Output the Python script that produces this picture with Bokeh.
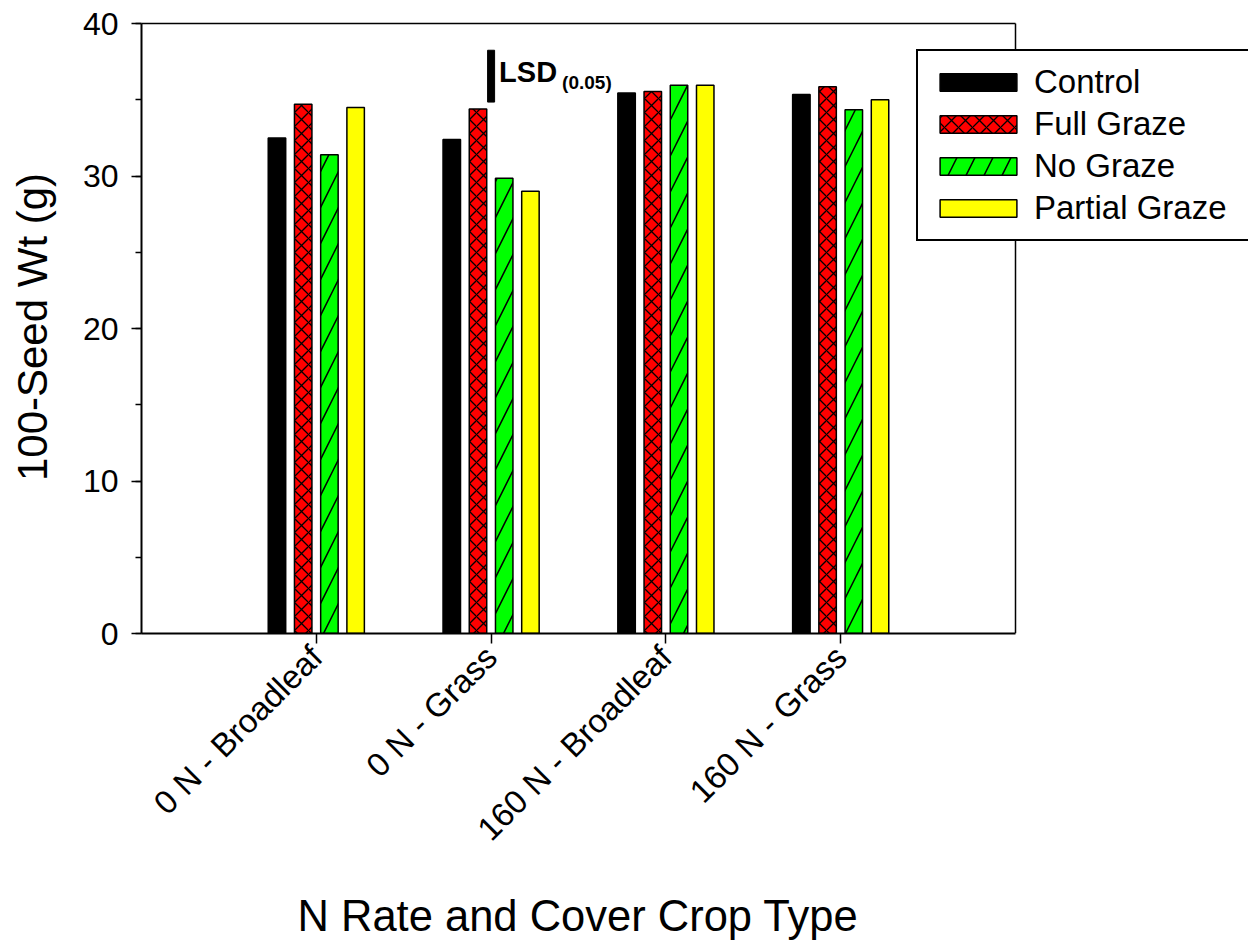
import math
from bokeh.plotting import figure
from bokeh.models import (Range1d, SingleIntervalTicker, FixedTicker, Legend,
                          LegendItem, ColumnDataSource, Title)
from bokeh.embed import file_html
from bokeh.resources import INLINE
from bokeh.core.properties import value

# ---- data ----
groups = ["0 N - Broadleaf", "0 N - Grass", "160 N - Broadleaf", "160 N - Grass"]
series = ["Control", "Full Graze", "No Graze", "Partial Graze"]
control = [32.5, 32.4, 35.45, 35.35]
full_graze = [34.7, 34.4, 35.55, 35.85]
no_graze = [31.4, 29.85, 35.95, 34.35]
partial_graze = [34.5, 29.0, 35.95, 35.0]
lsd_group = "0 N - Grass"
lsd_bottom = 34.85
lsd_top = 38.25
y_max = 40
y_tick_step = 10

FONT = "Liberation Sans"

W, H = 1248, 944
LEFT, TOP, BOTTOM_Y = 141, 20, 633
box_w = 874                                         # width of the plotted box in px
pos = [i + 1 for i in range(len(groups))]          # category positions 1..n
x_end = len(groups) + 1                             # box right edge (data units)
px_per_unit = box_w / x_end
frame_w = W - LEFT

series_cols = [control, full_graze, no_graze, partial_graze]

p = figure(x_range=Range1d(0, frame_w / px_per_unit),
           y_range=Range1d(0, y_max + 0.2),
           frame_width=frame_w, frame_height=BOTTOM_Y - TOP,
           min_border_left=LEFT, min_border_right=0, min_border_top=TOP,
           min_border_bottom=H - BOTTOM_Y,
           output_backend="svg", toolbar_location=None)

p.background_fill_color = "white"
p.border_fill_color = "white"
p.outline_line_color = None
p.xgrid.visible = False
p.ygrid.visible = False

bw = 0.1
styles = [
    (-0.225, dict(fill_color="black")),
    (-0.075, dict(fill_color="#ff0000", hatch_pattern="x", hatch_color="black",
                  hatch_weight=1.3, hatch_scale=14)),
    (0.075, dict(fill_color="#00ff00", hatch_pattern="/", hatch_color="black",
                 hatch_weight=1.5, hatch_scale=36)),
    (0.225, dict(fill_color="#ffff00")),
]
renderers = []
for vals, (off, st) in zip(series_cols, styles):
    src = ColumnDataSource(data=dict(x=[v + off for v in pos], top=vals))
    r = p.vbar(x="x", top="top", bottom=0, width=bw, source=src,
               line_color="black", line_width=1.5, **st)
    renderers.append(r)

# box: top and right sides
p.segment(x0=[0, x_end], y0=[y_max, 0], x1=[x_end, x_end], y1=[y_max, y_max],
          line_color="black", line_width=1.5)

# LSD bar
lsd_x = pos[groups.index(lsd_group)]
p.vbar(x=[lsd_x], bottom=[lsd_bottom], top=[lsd_top], width=0.04, fill_color="black",
       line_color="black")
p.text(x=[lsd_x], y=[lsd_top], text=["LSD"], x_offset=8, y_offset=22,
       text_font=value(FONT), text_font_size="29px", text_font_style="bold",
       text_baseline="alphabetic", text_align="left", text_color="black")
p.text(x=[lsd_x], y=[lsd_top], text=["(0.05)"], x_offset=71, y_offset=32,
       text_font=value(FONT), text_font_size="19px", text_font_style="bold",
       text_baseline="alphabetic", text_align="left", text_color="black")

# y axis
ya = p.yaxis[0]
ya.bounds = (0, y_max)
ya.ticker = SingleIntervalTicker(interval=y_tick_step, num_minor_ticks=2)
ya.major_tick_out = 10
ya.major_tick_in = 0
ya.minor_tick_out = 6
ya.minor_tick_in = 0
ya.axis_line_width = 2
ya.major_tick_line_width = 1.5
ya.minor_tick_line_width = 1.5
ya.major_label_text_font = FONT
ya.major_label_text_font_size = "32px"
ya.major_label_text_color = "black"
ya.major_label_standoff = 13
ya.axis_label = "100-Seed Wt (g)"
ya.axis_label_text_font = FONT
ya.axis_label_text_font_size = "42px"
ya.axis_label_text_font_style = "normal"
ya.axis_label_text_color = "black"
ya.axis_label_standoff = 24

# x axis
xa = p.xaxis[0]
xa.bounds = (0, x_end)
xa.ticker = FixedTicker(ticks=pos, minor_ticks=[])
xa.major_label_overrides = {v: g for v, g in zip(pos, groups)}
xa.major_tick_out = 10
xa.major_tick_in = 0
xa.minor_tick_out = 0
xa.minor_tick_in = 0
xa.axis_line_width = 2
xa.major_tick_line_width = 1.5
xa.major_label_orientation = math.pi / 4
xa.major_label_text_font = FONT
xa.major_label_text_font_size = "33px"
xa.major_label_text_color = "black"
xa.major_label_standoff = 8

# x title, centred under the plotted box
xt = Title(text="N Rate and Cover Crop Type", align="left", offset=156,
           text_font=FONT, text_font_size="43.5px", text_font_style="normal",
           text_color="black", standoff=52)
p.add_layout(xt, "below")

legend = Legend(items=[LegendItem(label=s, renderers=[r]) for s, r in zip(series, renderers)],
                location=(775, 392))
legend.glyph_width = 96
legend.glyph_height = 22
legend.label_standoff = 8
legend.label_width = 202
legend.spacing = 4
legend.padding = 12
legend.margin = 0
legend.border_line_color = "black"
legend.border_line_alpha = 1
legend.border_line_width = 2
legend.background_fill_color = "white"
legend.background_fill_alpha = 1
legend.label_text_font = FONT
legend.label_text_font_size = "33px"
legend.label_text_color = "black"
p.add_layout(legend, "center")

open("out.html", "w").write(file_html(p, INLINE))
